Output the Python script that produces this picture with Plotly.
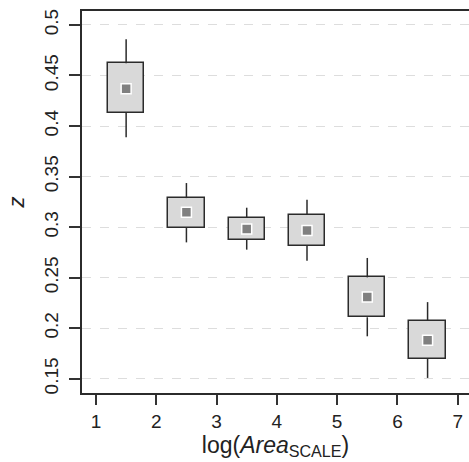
import plotly.graph_objects as go

x_pos = [1.5, 2.5, 3.5, 4.5, 5.5, 6.5]
center = [0.437, 0.3146, 0.2981, 0.2967, 0.2309, 0.188]
q_low = [0.4133, 0.2991, 0.2873, 0.2816, 0.2108, 0.1697]
q_high = [0.4622, 0.3287, 0.309, 0.3123, 0.2503, 0.2075]
w_low = [0.389, 0.2849, 0.2777, 0.2668, 0.192, 0.1508]
w_high = [0.4859, 0.3436, 0.3192, 0.3271, 0.2695, 0.2258]

x_ticks = [1, 2, 3, 4, 5, 6, 7]
y_ticks = [0.15, 0.2, 0.25, 0.3, 0.35, 0.4, 0.45, 0.5]
y_ticklabels = ["0.15", "0.2", "0.25", "0.3", "0.35", "0.4", "0.45", "0.5"]

wx, wy = [], []
for x, lo, ql, qh, hi in zip(x_pos, w_low, q_low, q_high, w_high):
    wx += [x, x, None, x, x, None]
    wy += [lo, ql, None, qh, hi, None]

fig = go.Figure()
fig.add_trace(go.Scatter(x=wx, y=wy, mode="lines",
                         line=dict(color="#2b2b2b", width=1.5),
                         hoverinfo="skip", showlegend=False))
fig.add_trace(go.Bar(x=x_pos, y=[h - l for h, l in zip(q_high, q_low)], base=q_low,
                     width=0.6, marker=dict(color="#d9d9d9",
                                            line=dict(color="#2b2b2b", width=1.5)),
                     showlegend=False))
fig.add_trace(go.Scatter(x=x_pos, y=center, mode="markers",
                         marker=dict(symbol="square", size=10, color="#808080",
                                     line=dict(color="white", width=1.5)),
                         showlegend=False))

fig.update_layout(
    width=469, height=462,
    margin=dict(l=82, r=0, t=11, b=69),
    paper_bgcolor="white", plot_bgcolor="white",
    font=dict(family="Liberation Sans, Arial, sans-serif", size=19, color="#222222"),
    bargap=0,
)
fig.update_xaxes(range=[0.768, 7.187], tickvals=x_ticks, ticks="outside", ticklen=10,
                 tickwidth=1.5, tickcolor="#333333", showline=True, linecolor="#2b2b2b",
                 linewidth=1.5, mirror=True, showgrid=False, zeroline=False,
                 title=dict(text="log(<i>Area</i><sub>SCALE</sub>)",
                            font=dict(size=23), standoff=0))
fig.update_yaxes(range=[0.1359, 0.5138], tickvals=y_ticks, ticktext=y_ticklabels,
                 tickangle=-90, ticks="outside", ticklen=11, tickwidth=1.5,
                 ticklabelstandoff=4,
                 tickcolor="#333333", showline=True, linecolor="#2b2b2b", linewidth=1.5,
                 showgrid=True, gridcolor="#dddddd", griddash="dash", gridwidth=1,
                 zeroline=False,
                 title=dict(text="<i>z</i>", font=dict(size=22), standoff=10))

fig.write_html("out.html")
